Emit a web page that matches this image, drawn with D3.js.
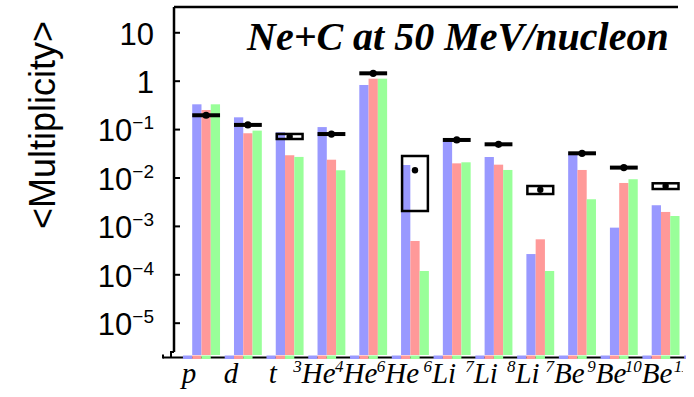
<!DOCTYPE html>
<html>
<head>
<meta charset="utf-8">
<script src="https://cdn.jsdelivr.net/npm/d3@7"></script>
<style>
  body { margin: 0; background: #fff; }
  svg { display: block; }
</style>
</head>
<body>
<div id="container"></div>
<script>
// fragments (13th one is cut off at the right edge)
const categories = ["p", "d", "t", "3He", "4He", "6He", "6Li", "7Li", "8Li", "7Be", "9Be", "10Be", "11B"];
const labelMass = ["", "", "", "3", "4", "6", "6", "7", "8", "7", "9", "10", "11"];
const labelSym = ["p", "d", "t", "He", "He", "He", "Li", "Li", "Li", "Be", "Be", "Be", "B"];

// three calculated series (blue, red, green)
const blueValues = [0.325, 0.175, 0.086, 0.110, 0.815, 0.0181, 0.0550, 0.0265, 2.62e-4, 0.0301, 9.2e-4, 2.67e-3, null];
const redValues = [0.248, 0.082, 0.0288, 0.0233, 1.10, 4.88e-4, 0.0196, 0.0184, 5.28e-4, 0.0143, 7.7e-3, 1.94e-3, null];
const greenValues = [0.325, 0.093, 0.0266, 0.0141, 1.10, 1.17e-4, 0.0206, 0.0143, 1.17e-4, 3.55e-3, 9.2e-3, 1.60e-3, null];

// experimental points, boxes where a range is given
const expValue = [0.193, 0.122, 0.0697, 0.079, 1.42, 0.0141, 0.0596, 0.0485, 0.00557, 0.0316, 0.0160, 0.0067, null];
const expLow = [null, null, 0.0624, null, null, 0.00203, null, null, 0.00456, null, null, 0.00578, null];
const expHigh = [null, null, 0.0793, null, null, 0.0278, null, null, 0.00667, null, null, 0.00759, null];

const yTicks = [10, 1, 1e-1, 1e-2, 1e-3, 1e-4, 1e-5];
const yDomain = [2.15e-6, 33.3];

const title = "Ne+C at 50 MeV/nucleon";
const yTitle = "<Multiplicity>";

const width = 694, height = 397;
const plotLeft = 174, plotTop = 7, plotBottom = 355, plotRight = 686;
const colors = ["#9999ff", "#ff9999", "#99ff99"];

const svg = d3.select("#container").
append("svg").
attr("width", width).
attr("height", height);

const defs = svg.append("defs");
defs.append("clipPath").attr("id", "plotClip").
append("rect").attr("x", 0).attr("y", 0).attr("width", plotRight).attr("height", height);
defs.append("clipPath").attr("id", "labelClip").
append("rect").attr("x", 0).attr("y", 0).attr("width", 683).attr("height", height);

// scales
const x = d3.scaleBand().
domain(categories).
range([plotLeft, 739.5]).
paddingInner(0.334).
paddingOuter(0.436);

const series = [blueValues, redValues, greenValues];
const xs = d3.scaleBand().
domain(d3.range(series.length)).
range([0, x.bandwidth()]);

const y = d3.scaleLog().
domain(yDomain).
range([plotBottom, plotTop]);

const plot = svg.append("g").attr("clip-path", "url(#plotClip)");

// bars
series.forEach((vals, k) => {
  plot.append("g").
  selectAll("rect").
  data(categories.map((c, i) => ({ c, v: vals[i] })).filter(d => d.v != null)).
  enter().
  append("rect").
  attr("x", d => x(d.c) + xs(k)).
  attr("y", d => y(d.v)).
  attr("width", xs.bandwidth()).
  attr("height", d => plotBottom - y(d.v)).
  attr("fill", colors[k]);
});

// bottom line with the coloured strips drawn over it
plot.append("line").
attr("x1", 163).attr("x2", plotRight).
attr("y1", 357.5).attr("y2", 357.5).
attr("stroke", "#000").attr("stroke-width", 2);
plot.append("path").
attr("d", "M163,354.5V358.5M174,352H171V357").
attr("fill", "none").attr("stroke", "#000").attr("stroke-width", 2);

series.forEach((vals, k) => {
  plot.append("g").
  selectAll("rect").
  data(categories).
  enter().
  append("rect").
  attr("x", c => x(c) + xs(k) - xs.bandwidth()).
  attr("y", 355.5).
  attr("width", xs.bandwidth()).
  attr("height", 3.5).
  attr("fill", colors[k]);
});

// experimental markers
const exp = categories.map((c, i) => ({ c, v: expValue[i], lo: expLow[i], hi: expHigh[i] })).
filter(d => d.v != null);

plot.selectAll(".expLine").
data(exp.filter(d => d.lo == null)).
enter().
append("rect").
attr("class", "expLine").
attr("x", d => x(d.c)).
attr("y", d => y(d.v) - 2).
attr("width", x.bandwidth()).
attr("height", 4).
attr("fill", "#000");

plot.selectAll(".expBox").
data(exp.filter(d => d.lo != null)).
enter().
append("rect").
attr("class", "expBox").
attr("x", d => x(d.c) + 1).
attr("y", d => y(d.hi)).
attr("width", x.bandwidth() - 2).
attr("height", d => y(d.lo) - y(d.hi)).
attr("fill", "none").
attr("stroke", "#000").
attr("stroke-width", 2.5);

plot.selectAll(".expDot").
data(exp).
enter().
append("circle").
attr("class", "expDot").
attr("cx", d => x(d.c) + x.bandwidth() / 2).
attr("cy", d => y(d.v)).
attr("r", d => d.lo == null ? 3.6 : 3.2).
attr("fill", "#000");

// top frame
svg.append("line").
attr("x1", plotLeft).attr("x2", 678).
attr("y1", plotTop).attr("y2", plotTop).
attr("stroke", "#000").attr("stroke-width", 2.5);

// y axis, ticks pointing inwards
const yAxis = d3.axisLeft(y).
tickValues(yTicks).
tickSize(-6).
tickSizeOuter(0).
tickPadding(20);

const gy = svg.append("g").
attr("transform", `translate(${plotLeft},0)`).
call(yAxis);

gy.select(".domain").attr("stroke-width", 2.5).attr("d", `M0,${plotTop}V352`);
gy.selectAll(".tick line").attr("stroke-width", 2);
gy.selectAll(".tick text").
attr("font-family", "'Liberation Sans', Arial, sans-serif").
attr("font-size", 31).
attr("fill", "#000").
attr("dy", "0.38em").
each(function (d) {
  const t = d3.select(this).text("");
  if (d >= 1) {
    t.text(d3.format("d")(d));
  } else {
    t.append("tspan").text("10");
    t.append("tspan").
    attr("font-size", 19).
    attr("dy", -12).
    text("\u2212" + Math.round(-Math.log10(d)));
  }
});

// category labels with mass numbers as superscripts
const xl = svg.append("g").attr("clip-path", "url(#labelClip)");
xl.selectAll("text").
data(categories).
enter().
append("text").
attr("x", c => x(c) + x.bandwidth() / 2 - 17).
attr("y", 383).
attr("text-anchor", "middle").
attr("font-family", "'Liberation Serif', 'Times New Roman', serif").
attr("font-style", "italic").
attr("font-size", 29).
each(function (c, i) {
  const t = d3.select(this);
  if (labelMass[i]) {
    t.append("tspan").attr("font-size", 17).attr("dy", -11).text(labelMass[i]);
    t.append("tspan").attr("dy", 11).text(labelSym[i]);
  } else {
    t.append("tspan").text(labelSym[i]);
  }
});

// title
svg.append("text").
attr("x", 247).
attr("y", 50).
attr("font-family", "'Liberation Serif', 'Times New Roman', serif").
attr("font-style", "italic").
attr("font-weight", "bold").
attr("font-size", 40).
text(title);

// y axis title
svg.append("text").
attr("transform", "translate(55,125) rotate(-90)").
attr("text-anchor", "middle").
attr("font-family", "'Liberation Sans', Arial, sans-serif").
attr("font-size", 36).
text(yTitle);
</script>
</body>
</html>
